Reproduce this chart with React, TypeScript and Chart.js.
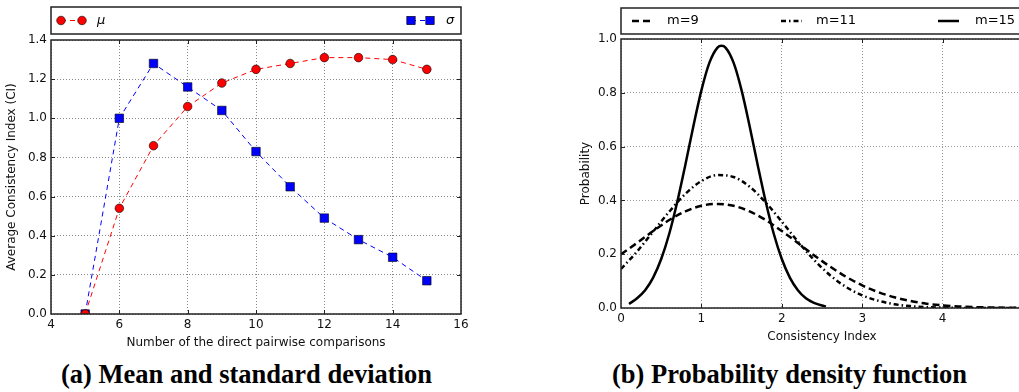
import React, { useEffect, useRef } from "react";
import { Chart, registerables } from "chart.js";

Chart.register(...registerables);

// ---------------- (a) Mean and standard deviation ----------------
const comparisonCounts = [5, 6, 7, 8, 9, 10, 11, 12, 13, 14, 15];
const meanCI = [0.0, 0.54, 0.86, 1.06, 1.18, 1.25, 1.28, 1.31, 1.31, 1.3, 1.25];
const stdCI = [0.0, 1.0, 1.28, 1.16, 1.04, 0.83, 0.65, 0.49, 0.38, 0.29, 0.17];
const meanLabel = "μ";
const stdLabel = "σ";
const leftXTitle = "Number of the direct pairwise comparisons";
const leftYTitle = "Average Consistency Index (CI)";
const leftCaption = "(a) Mean and standard deviation";

// ---------------- (b) Probability density function ----------------
const ciGrid = [
  0, 0.2, 0.4, 0.6, 0.8, 1.0, 1.2, 1.4, 1.6, 1.8, 2.0, 2.2, 2.4, 2.6, 2.8, 3.0,
  3.2, 3.4, 3.6, 3.8, 4.0, 4.2, 4.4, 4.6, 4.8, 5.0, 5.2,
];
const pdfM9 = [
  0.2, 0.242, 0.286, 0.327, 0.359, 0.38, 0.387, 0.38, 0.359, 0.327, 0.286,
  0.242, 0.196, 0.154, 0.116, 0.084, 0.059, 0.04, 0.026, 0.016, 0.01, 0.006,
  0.003, 0.002, 0.001, 0.0005, 0.0002,
];
const pdfM11 = [
  0.145, 0.21, 0.284, 0.358, 0.424, 0.472, 0.494, 0.487, 0.451, 0.392, 0.321,
  0.247, 0.179, 0.122, 0.078, 0.047, 0.027, 0.014, 0.007, 0.003, 0.0015,
  0.0006, 0.0002, 0.0001, 0, 0, 0,
];
const ciGridM15 = [
  0.1, 0.2, 0.3, 0.4, 0.5, 0.6, 0.7, 0.8, 0.9, 1.0, 1.1, 1.2, 1.25, 1.3, 1.4,
  1.5, 1.6, 1.7, 1.8, 1.9, 2.0, 2.1, 2.2, 2.3, 2.4, 2.5, 2.55,
];
const pdfM15 = [
  0.015, 0.036, 0.066, 0.113, 0.182, 0.276, 0.395, 0.532, 0.676, 0.809, 0.912,
  0.968, 0.975, 0.968, 0.912, 0.809, 0.676, 0.532, 0.395, 0.276, 0.182, 0.113,
  0.066, 0.036, 0.019, 0.009, 0.006,
];
const seriesLabels = ["m=9", "m=11", "m=15"];
const rightXTitle = "Consistency Index";
const rightYTitle = "Probability";
const rightCaption = "(b) Probability density function";

const FONT = '"DejaVu Sans", sans-serif';
const GRID_DASH = [1, 2];

function pts(xs: number[], ys: number[]) {
  return xs.map((x, i) => ({ x, y: ys[i] }));
}

function frameAndTicks(extra?: (chart: any) => void) {
  return {
    id: "frameAndTicks",
    afterDatasetsDraw(chart: any) {
      const { ctx, chartArea: a, scales } = chart;
      ctx.save();
      ctx.strokeStyle = "#222";
      ctx.lineWidth = 1;
      ctx.setLineDash([]);
      const tl = 4;
      ctx.beginPath();
      scales.x.ticks.forEach((t: any) => {
        const px = Math.round(scales.x.getPixelForValue(t.value)) + 0.5;
        if (px < a.left + 1 || px > a.right - 1) return;
        ctx.moveTo(px, a.bottom);
        ctx.lineTo(px, a.bottom - tl);
        ctx.moveTo(px, a.top);
        ctx.lineTo(px, a.top + tl);
      });
      scales.y.ticks.forEach((t: any) => {
        const py = Math.round(scales.y.getPixelForValue(t.value)) + 0.5;
        if (py < a.top + 1 || py > a.bottom - 1) return;
        ctx.moveTo(a.left, py);
        ctx.lineTo(a.left + tl, py);
        ctx.moveTo(a.right, py);
        ctx.lineTo(a.right - tl, py);
      });
      ctx.stroke();
      ctx.lineWidth = 1.5;
      ctx.strokeRect(a.left, a.top, a.right - a.left, a.bottom - a.top);
      if (extra) extra(chart);
      ctx.restore();
    },
  };
}

function LeftChart() {
  const ref = useRef<HTMLCanvasElement>(null);
  useEffect(() => {
    const canvas = ref.current!;
    const legend = (chart: any) => {
      const ctx = chart.ctx as CanvasRenderingContext2D;
      const a = chart.chartArea;
      ctx.save();
      ctx.strokeStyle = "#222";
      ctx.lineWidth = 1.5;
      ctx.setLineDash([]);
      ctx.strokeRect(a.left, 7, a.right - a.left, 27);
      const y = 20.5;
      // mu
      ctx.strokeStyle = "#ff0000";
      ctx.lineWidth = 1;
      ctx.setLineDash([5, 4]);
      ctx.beginPath();
      ctx.moveTo(61, y);
      ctx.lineTo(82, y);
      ctx.stroke();
      ctx.setLineDash([]);
      [61, 82].forEach((cx) => {
        ctx.beginPath();
        ctx.arc(cx, y, 4.3, 0, Math.PI * 2);
        ctx.fillStyle = "#ff0000";
        ctx.fill();
        ctx.strokeStyle = "#000";
        ctx.lineWidth = 0.6;
        ctx.stroke();
      });
      // sigma
      ctx.strokeStyle = "#0000ff";
      ctx.lineWidth = 1;
      ctx.setLineDash([5, 4]);
      ctx.beginPath();
      ctx.moveTo(411, y);
      ctx.lineTo(430, y);
      ctx.stroke();
      ctx.setLineDash([]);
      [411, 430].forEach((cx) => {
        ctx.fillStyle = "#0000ff";
        ctx.fillRect(cx - 4.2, y - 4.2, 8.4, 8.4);
        ctx.strokeStyle = "#000";
        ctx.lineWidth = 0.6;
        ctx.strokeRect(cx - 4.2, y - 4.2, 8.4, 8.4);
      });
      ctx.fillStyle = "#000";
      ctx.font = "italic 13px " + FONT;
      ctx.textBaseline = "middle";
      ctx.textAlign = "left";
      ctx.fillText(meanLabel, 97, y);
      ctx.fillText(stdLabel, 446, y);
      ctx.restore();
    };
    const chart = new Chart(canvas, {
      type: "line",
      data: {
        datasets: [
          {
            label: meanLabel,
            data: pts(comparisonCounts, meanCI),
            borderColor: "#ff0000",
            borderWidth: 1,
            borderDash: [5, 4],
            pointStyle: "circle",
            pointRadius: 4.3,
            pointBackgroundColor: "#ff0000",
            pointBorderColor: "#000",
            pointBorderWidth: 0.6,
            tension: 0,
          },
          {
            label: stdLabel,
            data: pts(comparisonCounts, stdCI),
            borderColor: "#0000ff",
            borderWidth: 1,
            borderDash: [5, 4],
            pointStyle: "rect",
            pointRadius: 6,
            pointBackgroundColor: "#0000ff",
            pointBorderColor: "#000",
            pointBorderWidth: 0.6,
            tension: 0,
          },
        ],
      },
      options: {
        animation: false,
        responsive: false,
        maintainAspectRatio: false,
        layout: { padding: { top: 40, right: 19, left: 0, bottom: 0 } },
        plugins: { legend: { display: false }, tooltip: { enabled: false } },
        scales: {
          x: {
            type: "linear",
            min: 4,
            max: 16,
            afterFit: (s: any) => {
              s.height = 42;
            },
            ticks: {
              stepSize: 2,
              padding: 4,
              color: "#111",
              font: { family: FONT, size: 12 },
              callback: (v: any) => String(v),
            },
            grid: { color: "#888", lineWidth: 1, drawTicks: false },
            border: { display: false, dash: GRID_DASH },
            title: {
              display: true,
              text: leftXTitle,
              color: "#111",
              font: { family: FONT, size: 12 },
              padding: { top: 0, bottom: 6 },
            },
          },
          y: {
            type: "linear",
            min: 0,
            max: 1.4,
            afterFit: (s: any) => {
              s.width = 51;
            },
            ticks: {
              stepSize: 0.2,
              padding: 4,
              color: "#111",
              font: { family: FONT, size: 12 },
              callback: (v: any) => Number(v).toFixed(1),
            },
            grid: { color: "#888", lineWidth: 1, drawTicks: false },
            border: { display: false, dash: GRID_DASH },
            title: {
              display: true,
              text: leftYTitle,
              color: "#111",
              font: { family: FONT, size: 12 },
              padding: { top: 5, bottom: 0 },
            },
          },
        },
      },
      plugins: [frameAndTicks(legend)],
    });
    return () => chart.destroy();
  }, []);
  return (
    <canvas
      ref={ref}
      width={480}
      height={356}
      style={{ position: "absolute", left: 0, top: 0, width: 480, height: 356 }}
    />
  );
}

function RightChart() {
  const ref = useRef<HTMLCanvasElement>(null);
  useEffect(() => {
    const canvas = ref.current!;
    const dashes = [[7, 4], [5, 3, 1.5, 3], []];
    const legend = (chart: any) => {
      const ctx = chart.ctx as CanvasRenderingContext2D;
      const a = chart.chartArea;
      ctx.save();
      ctx.strokeStyle = "#222";
      ctx.lineWidth = 1.5;
      ctx.setLineDash([]);
      ctx.strokeRect(a.left, 8, a.right - a.left, 26);
      const y = 21;
      const lineStarts = [92, 241, 398];
      const textStarts = [127, 276, 435];
      ctx.font = "13px " + FONT;
      ctx.textBaseline = "middle";
      ctx.textAlign = "left";
      seriesLabels.forEach((lab, i) => {
        ctx.strokeStyle = "#000";
        ctx.lineWidth = 2.5;
        ctx.lineCap = "butt";
        ctx.setLineDash(dashes[i]);
        ctx.beginPath();
        ctx.moveTo(lineStarts[i], y);
        ctx.lineTo(lineStarts[i] + 21, y);
        ctx.stroke();
        ctx.setLineDash([]);
        ctx.fillStyle = "#000";
        ctx.fillText(lab, textStarts[i], y);
      });
      ctx.restore();
    };
    const common = {
      borderColor: "#000",
      borderWidth: 2.5,
      pointRadius: 0,
      cubicInterpolationMode: "monotone" as const,
      borderCapStyle: "butt" as const,
    };
    const chart = new Chart(canvas, {
      type: "line",
      data: {
        datasets: [
          { label: seriesLabels[0], data: pts(ciGrid, pdfM9), borderDash: dashes[0], ...common },
          { label: seriesLabels[1], data: pts(ciGrid, pdfM11), borderDash: dashes[1], ...common },
          { label: seriesLabels[2], data: pts(ciGridM15, pdfM15), borderDash: dashes[2], ...common },
        ],
      },
      options: {
        animation: false,
        responsive: false,
        maintainAspectRatio: false,
        layout: { padding: { top: 39, right: 17, left: 34, bottom: 0 } },
        plugins: { legend: { display: false }, tooltip: { enabled: false } },
        scales: {
          x: {
            type: "linear",
            min: 0,
            max: 5,
            afterFit: (s: any) => {
              s.height = 48;
            },
            ticks: {
              stepSize: 1,
              padding: 4,
              color: "#111",
              font: { family: FONT, size: 12 },
              callback: (v: any) => String(v),
            },
            grid: { color: "#999", lineWidth: 1, drawTicks: false },
            border: { display: false, dash: GRID_DASH },
            title: {
              display: true,
              text: rightXTitle,
              color: "#111",
              font: { family: FONT, size: 12 },
              padding: { top: 0, bottom: 12 },
            },
          },
          y: {
            type: "linear",
            min: 0,
            max: 1,
            afterFit: (s: any) => {
              s.width = 47;
            },
            ticks: {
              stepSize: 0.2,
              padding: 4,
              color: "#111",
              font: { family: FONT, size: 12 },
              callback: (v: any) => Number(v).toFixed(1),
            },
            grid: { color: "#999", lineWidth: 1, drawTicks: false },
            border: { display: false, dash: GRID_DASH },
            title: {
              display: true,
              text: rightYTitle,
              color: "#111",
              font: { family: FONT, size: 12 },
              padding: { top: 5, bottom: 0 },
            },
          },
        },
      },
      plugins: [frameAndTicks(legend)],
    });
    return () => chart.destroy();
  }, []);
  return (
    <canvas
      ref={ref}
      width={500}
      height={356}
      style={{ position: "absolute", left: 540, top: 0, width: 500, height: 356 }}
    />
  );
}

const captionStyle: React.CSSProperties = {
  position: "absolute",
  top: 359,
  textAlign: "center",
  font: 'bold 26.5px "Liberation Serif", "Times New Roman", serif',
  lineHeight: "30px",
  color: "#000",
  whiteSpace: "nowrap",
};

export default function App() {
  return (
    <div
      style={{
        position: "fixed",
        left: 0,
        top: 0,
        width: 1019,
        height: 392,
        overflow: "hidden",
        background: "#fff",
      }}
    >
      <LeftChart />
      <RightChart />
      <div style={{ ...captionStyle, left: 0, width: 493 }}>{leftCaption}</div>
      <div style={{ ...captionStyle, left: 580, width: 419 }}>{rightCaption}</div>
    </div>
  );
}
